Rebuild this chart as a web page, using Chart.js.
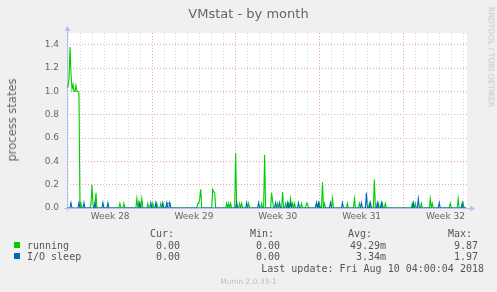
<!DOCTYPE html>
<html>
<head>
<meta charset="utf-8">
<script src="https://cdn.jsdelivr.net/npm/chart.js@4.4.1/dist/chart.umd.min.js"></script>
<style>
    body { margin: 0; background: #f0f0f0; }
    #wrap { position: relative; width: 497px; height: 292px; background: #f0f0f0; overflow: hidden; }
    #chart { position: absolute; left: 0; top: 0; }
    .txt { position: absolute; white-space: pre; color: #666666; font-family: 'DejaVu Sans', sans-serif; }
    .mono { font-family: 'DejaVu Sans Mono', monospace; font-size: 10px; line-height: 12px; color: #555555; }
    .box { position: absolute; width: 6px; height: 6px; }
</style>
</head>
<body>
<div id="wrap">
    <canvas id="chart" width="497" height="292"></canvas>
    <div class="txt" id="title" style="left:0;width:497px;text-align:center;top:6px;font-size:13px;line-height:16px;">VMstat - by month</div>
    <div class="txt" id="ytitle" style="left:12px;top:120px;font-size:11.5px;line-height:14px;transform:translate(-50%,-50%) rotate(-90deg);">process states</div>
    <div class="txt" id="watermark" style="left:491px;top:57px;font-size:7.8px;line-height:9px;color:#c4c4c4;transform:translate(-50%,-50%) rotate(90deg);">RRDTOOL / TOBI OETIKER</div>
    <div id="legend"></div>
    <div class="txt" id="version" style="left:0;width:497px;text-align:center;top:277px;font-size:7.5px;line-height:9px;color:#bdbdbd;">Munin 2.0.33-1</div>
</div>
<script>
// Zeitachse: 2-Stunden-Slots ab Achsenanfang (Tage)
const dayMin = -0.1;
const dayMax = 33.3;
const slotCount = 400;
const slotsPerDay = 12;

const weekLabels = ['Week 28', 'Week 29', 'Week 30', 'Week 31', 'Week 32'];
const weekStartDays = [0, 7, 14, 21, 28];

// running: Spitzen (Slot-Index und Wert), sonst 0
const runningSlots = [0, 1, 2, 3, 4, 5, 6, 7, 8, 9, 10, 11, 12, 14, 24, 25, 26, 29, 53, 57, 70, 72, 75, 81, 86, 90, 94,
    100, 101, 102, 103, 131, 132, 133, 134, 146, 147, 148, 160, 162, 164, 169, 173, 175, 182, 195, 198, 205, 206, 211,
    216, 219, 222, 224, 226, 228, 235, 240, 241, 250, 253, 256, 258, 266, 281, 288, 293, 303, 308, 312, 316, 319,
    346, 349, 355, 364, 366, 384, 392, 397];
const runningValues = [1.04, 1.05, 1.10, 1.38, 1.15, 1.02, 1.06, 1.00, 1.00, 1.05, 1.00, 1.00, 0.98, 0.04, 0.03, 0.20, 0.03, 0.13, 0.04, 0.04, 0.08, 0.05, 0.08, 0.04, 0.04, 0.04, 0.04,
    0.04, 0.04, 0.04, 0.04, 0.04, 0.04, 0.08, 0.16, 0.16, 0.14, 0.13, 0.04, 0.04, 0.04, 0.47, 0.04, 0.04, 0.04, 0.04, 0.455, 0.13, 0.06, 0.04,
    0.135, 0.04, 0.04, 0.08, 0.04, 0.04, 0.04, 0.04, 0.04, 0.04, 0.04, 0.22, 0.04, 0.08, 0.04, 0.08, 0.04, 0.04, 0.245, 0.04, 0.04, 0.04,
    0.04, 0.04, 0.04, 0.08, 0.04, 0.04, 0.08, 0.04];

// I/O sleep
const ioSlots = [4, 12, 17, 28, 36, 41, 73, 84, 89, 96, 100, 103, 170, 180, 192, 209, 213, 221, 224, 232, 250, 252,
    264, 276, 295, 300, 304, 311, 315, 347, 352, 373, 396];
const ioValues = [0.045, 0.045, 0.045, 0.045, 0.045, 0.045, 0.045, 0.045, 0.045, 0.045, 0.045, 0.045, 0.045, 0.045, 0.045, 0.045, 0.045, 0.045, 0.045, 0.045, 0.045, 0.045,
    0.045, 0.045, 0.045, 0.13, 0.045, 0.045, 0.045, 0.045, 0.08, 0.045, 0.045];

// Legende
const seriesNames = ['running', 'I/O sleep'];
const seriesColors = ['#00cc00', '#0066b3'];
const curValues = ['0.00', '0.00'];
const minValues = ['0.00', '0.00'];
const avgValues = ['49.29m', '3.34m'];
const maxValues = ['9.87', '1.97'];
const lastUpdate = 'Last update: Fri Aug 10 04:00:04 2018';

const buildSeries = (slots, values) => {
    const map = {};
    slots.forEach((s, i) => { map[s] = values[i]; });
    const points = [];
    for (let i = 0; i <= slotCount; i++) {
        points.push({x: dayMin + i / slotsPerDay, y: map[i] !== undefined ? map[i] : 0});
    }
    return points;
};

const weekLabelDays = weekStartDays.map(d => d + 3.5);

const axisColor = '#b4c0f0';

// Zeichenfläche weiß + Achsen mit Pfeilen (rrdtool-Stil)
const rrdPlugin = {
    id: 'rrdPlugin',
    beforeDraw(chart) {
        const {ctx, chartArea} = chart;
        ctx.save();
        ctx.fillStyle = '#ffffff';
        ctx.fillRect(chartArea.left, chartArea.top, chartArea.right - chartArea.left, chartArea.bottom - chartArea.top);
        ctx.restore();
    },
    beforeDatasetsDraw(chart) {
        const {ctx, chartArea} = chart;
        const y0 = Math.round(chart.scales.y.getPixelForValue(0)) + 0.5;
        const x0 = chartArea.left + 0.5;
        ctx.save();
        ctx.strokeStyle = axisColor;
        ctx.fillStyle = axisColor;
        ctx.lineWidth = 1;
        ctx.beginPath();
        ctx.moveTo(x0, chartArea.bottom + 3);
        ctx.lineTo(x0, chartArea.top - 3);
        ctx.moveTo(chartArea.left - 3, y0);
        ctx.lineTo(chartArea.right + 4, y0);
        ctx.stroke();
        // Pfeilspitzen
        ctx.beginPath();
        ctx.moveTo(x0 - 3, chartArea.top - 2);
        ctx.lineTo(x0 + 3, chartArea.top - 2);
        ctx.lineTo(x0, chartArea.top - 7);
        ctx.closePath();
        ctx.fill();
        ctx.beginPath();
        ctx.moveTo(chartArea.right + 3, y0 - 3);
        ctx.lineTo(chartArea.right + 3, y0 + 3);
        ctx.lineTo(chartArea.right + 8, y0);
        ctx.closePath();
        ctx.fill();
        ctx.restore();
    }
};

const minorGrid = '#d6d6d6';
const majorGrid = '#eba3a3';

new Chart(document.getElementById('chart'), {
    type: 'line',
    data: {
        datasets: [{
            label: seriesNames[0],
            data: buildSeries(runningSlots, runningValues),
            borderColor: seriesColors[0],
            borderWidth: 1.1,
            pointRadius: 0,
            tension: 0,
            order: 2
        }, {
            label: seriesNames[1],
            data: buildSeries(ioSlots, ioValues),
            borderColor: seriesColors[1],
            borderWidth: 1.1,
            pointRadius: 0,
            tension: 0,
            order: 1
        }]
    },
    options: {
        responsive: false,
        animation: false,
        layout: {padding: {top: 33, right: 30, left: 0, bottom: 0}},
        plugins: {legend: {display: false}, title: {display: false}, tooltip: {enabled: false}},
        scales: {
            x: {
                type: 'linear',
                min: dayMin,
                max: dayMax,
                afterFit(scale) { scale.height = 84; },
                afterBuildTicks(scale) {
                    const ticks = [];
                    for (let d = 0; d <= Math.floor(dayMax); d++) ticks.push({value: d});
                    weekLabelDays.forEach(d => ticks.push({value: d}));
                    ticks.sort((a, b) => a.value - b.value);
                    scale.ticks = ticks;
                },
                grid: {
                    drawTicks: false,
                    lineWidth: 1,
                    color: ctx => {
                        const v = ctx.tick ? ctx.tick.value : 0;
                        if (!Number.isInteger(v)) return 'rgba(0,0,0,0)';
                        if (weekStartDays.includes(v) && v > 0) return majorGrid;
                        return minorGrid;
                    }
                },
                border: {display: false, dash: [1, 2]},
                ticks: {
                    autoSkip: false,
                    maxRotation: 0,
                    padding: 3,
                    color: '#666666',
                    font: {family: "'DejaVu Sans', sans-serif", size: 9},
                    callback: value => {
                        const i = weekLabelDays.indexOf(value);
                        return i >= 0 ? weekLabels[i] : '';
                    }
                }
            },
            y: {
                min: 0,
                max: 1.5,
                afterFit(scale) { scale.width = 67; },
                ticks: {
                    stepSize: 0.1,
                    padding: 8,
                    color: '#666666',
                    font: {family: "'DejaVu Sans', sans-serif", size: 9},
                    callback: value => {
                        const tenth = Math.round(value * 10);
                        if (tenth % 2 !== 0 || tenth > 14) return '';
                        return (tenth / 10).toFixed(1);
                    }
                },
                grid: {
                    drawTicks: false,
                    lineWidth: 1,
                    color: ctx => {
                        const tenth = Math.round((ctx.tick ? ctx.tick.value : 0) * 10);
                        if (tenth === 0) return 'rgba(0,0,0,0)';
                        return tenth % 2 === 0 && tenth < 15 ? majorGrid : minorGrid;
                    }
                },
                border: {display: false, dash: [1, 2]}
            }
        }
    },
    plugins: [rrdPlugin]
});

// Legende als HTML-Text
const legend = document.getElementById('legend');
const addText = (text, left, top, align) => {
    const el = document.createElement('div');
    el.className = 'txt mono';
    el.textContent = text;
    el.style.top = top + 'px';
    if (align === 'right') {
        el.style.right = (497 - left) + 'px';
    } else {
        el.style.left = left + 'px';
    }
    legend.appendChild(el);
};

const headerTop = 228;
const rowTop = [240, 251];
addText('Cur:', 150, headerTop);
addText('Min:', 250, headerTop);
addText('Avg:', 348, headerTop);
addText('Max:', 448, headerTop);
seriesNames.forEach((name, i) => {
    const box = document.createElement('div');
    box.className = 'box';
    box.style.left = '14px';
    box.style.top = (rowTop[i] + 2) + 'px';
    box.style.background = seriesColors[i];
    legend.appendChild(box);
    addText(name, 27, rowTop[i]);
    addText(curValues[i], 180, rowTop[i], 'right');
    addText(minValues[i], 280, rowTop[i], 'right');
    addText(avgValues[i], 386, rowTop[i], 'right');
    addText(maxValues[i], 478, rowTop[i], 'right');
});
addText(lastUpdate, 484, 263, 'right');
</script>
</body>
</html>
